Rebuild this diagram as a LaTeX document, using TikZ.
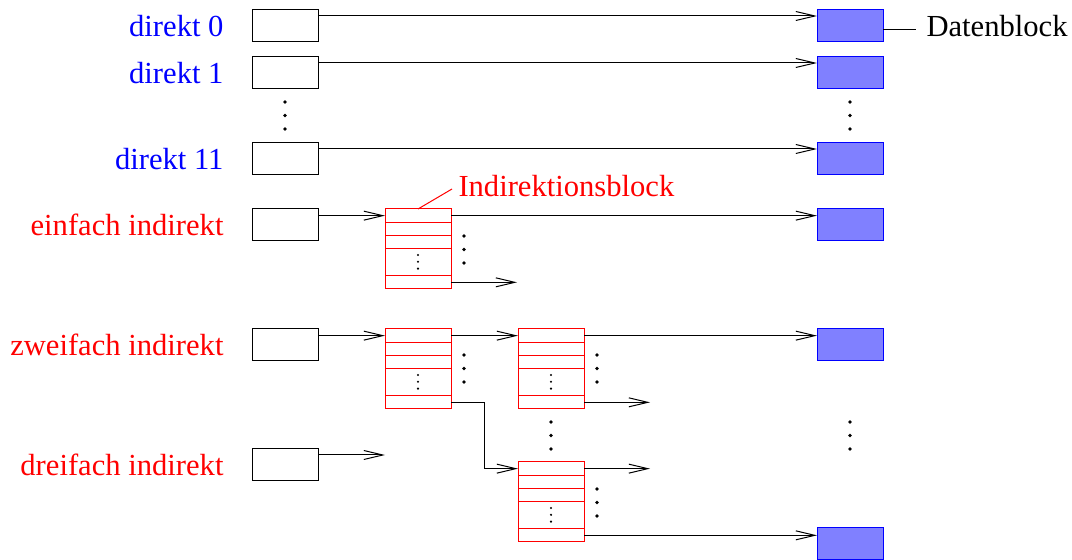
\documentclass[tikz,border=0pt]{standalone}
\usepackage{fontspec}
\setmainfont{Liberation Serif}
\usetikzlibrary{arrows.meta,calc}
\newcommand{\lblfont}{\fontsize{15.3pt}{18pt}\selectfont}
\begin{document}
\begin{tikzpicture}[x=0.5pt,y=-0.5pt,
  line width=0.5pt,
  ptr/.style={draw=black, minimum width=33pt, minimum height=16pt, inner sep=0pt, outer sep=0pt},
  data/.style={draw=blue, fill=blue!50, minimum width=33pt, minimum height=16pt, inner sep=0pt, outer sep=0pt},
  iblock/.style={draw=red, minimum width=33pt, minimum height=40pt, inner sep=0pt, outer sep=0pt,
    path picture={
      \foreach \f in {1,2,3,5}{
        \draw[red,line width=0.5pt]
          ($(path picture bounding box.north west)!\f/6!(path picture bounding box.south west)$) --
          ($(path picture bounding box.north east)!\f/6!(path picture bounding box.south east)$);}
      \foreach \f in {0.575,0.66,0.745}{
        \fill[black] ($(path picture bounding box.north)!\f!(path picture bounding box.south)$) circle (0.6pt);}
    }},
  arr/.style={-{Straight Barb[length=9.5pt,width=4.5pt,line width=0.5pt]}},
  lbl/.style={font=\lblfont, anchor=base east, inner sep=0pt},
  dotc/.style={black}
]
\useasboundingbox (0,0) rectangle (1072,560);

% labels
\node[lbl, text=blue] (l0) at (224,37) {direkt 0};
\node[lbl, text=blue] (l1) at (224,84) {direkt 1};
\node[lbl, text=blue] (l11) at (224,170) {direkt 11};
\node[lbl, text=red] (le) at (224,236) {einfach indirekt};
\node[lbl, text=red] (lz) at (224,356) {zweifach indirekt};
\node[lbl, text=red] (ld) at (224,476) {dreifach indirekt};

% pointer boxes
\node[ptr] (p0) at (285,26) {};
\node[ptr] (p1) at (285,73) {};
\node[ptr] (p11) at (285,159) {};
\node[ptr] (pe) at (285,225) {};
\node[ptr] (pz) at (285,345) {};
\node[ptr] (pd) at (285,465) {};

% data blocks
\node[data] (d0) at (850,26) {};
\node[data] (d1) at (850,73) {};
\node[data] (d11) at (850,159) {};
\node[data] (de) at (850,225) {};
\node[data] (dz) at (850,345) {};
\node[data] (dd) at (850,544) {};

% indirection blocks
\node[iblock] (b1) at (418,249) {};
\node[iblock] (b2) at (418,369) {};
\node[iblock] (b3) at (551,369) {};
\node[iblock] (b4) at (551,502) {};

% annotation texts
\node[font=\lblfont, anchor=base west, inner sep=0pt] (dlab) at (926,37) {Datenblock};
\coordinate (dl) at (916,0);
\draw ([yshift=-2pt]d0.east) -- ([yshift=-2pt]d0.east -| dl);
\node[font=\lblfont, text=red, anchor=base west, inner sep=0pt] (ilab) at (458,197) {Indirektionsblock};
\coordinate (il) at (452,189);
\draw[red] (b1.north) -- (il);

% free ends
\coordinate (e1) at (517,0);
\coordinate (e3) at (650,0);
\coordinate (ed) at (385,0);
\coordinate (j) at (484,0);

% direct arrows
\draw[arr] ([yshift=-3pt]p0.north east) -- ([yshift=-3pt]d0.north west);
\draw[arr] ([yshift=-3pt]p1.north east) -- ([yshift=-3pt]d1.north west);
\draw[arr] ([yshift=-3pt]p11.north east) -- ([yshift=-3pt]d11.north west);

% einfach
\draw[arr] ([yshift=-3.33pt]pe.north east) -- ([yshift=-3.33pt]b1.north west);
\draw[arr] ([yshift=-3.33pt]b1.north east) -- ([yshift=-3.33pt]de.north west);
\draw[arr] ([yshift=3.33pt]b1.south east) -- ([yshift=3.33pt]b1.south east -| e1);

% zweifach
\draw[arr] ([yshift=-3.33pt]pz.north east) -- ([yshift=-3.33pt]b2.north west);
\draw[arr] ([yshift=-3.33pt]b2.north east) -- ([yshift=-3.33pt]b3.north west);
\draw[arr] ([yshift=-3.33pt]b3.north east) -- ([yshift=-3.33pt]dz.north west);
\draw[arr] ([yshift=3.33pt]b3.south east) -- ([yshift=3.33pt]b3.south east -| e3);
\draw[arr] ([yshift=3.33pt]b2.south east) -- ([yshift=3.33pt]b2.south east -| j)
  -- ([yshift=-3.33pt]b4.north west -| j) -- ([yshift=-3.33pt]b4.north west);
\draw[arr] ([yshift=-3.33pt]b4.north east) -- ([yshift=-3.33pt]b4.north east -| e3);
\draw[arr] ([yshift=3.33pt]b4.south east) -- ([yshift=3.33pt]b4.south east -| dd.west);

% dreifach
\draw[arr] ([yshift=-3pt]pd.north east) -- ([yshift=-3pt]pd.north east -| ed);

% ellipsis dots
\foreach \x/\y in {285/102, 850/102, 464/236, 464/355, 597/355, 551/422, 597/489, 850/422}{
  \foreach \k in {0,1,2}{
    \fill[dotc] (\x,\y+13.5*\k) circle (0.9pt);
  }
}
\end{tikzpicture}
\end{document}
